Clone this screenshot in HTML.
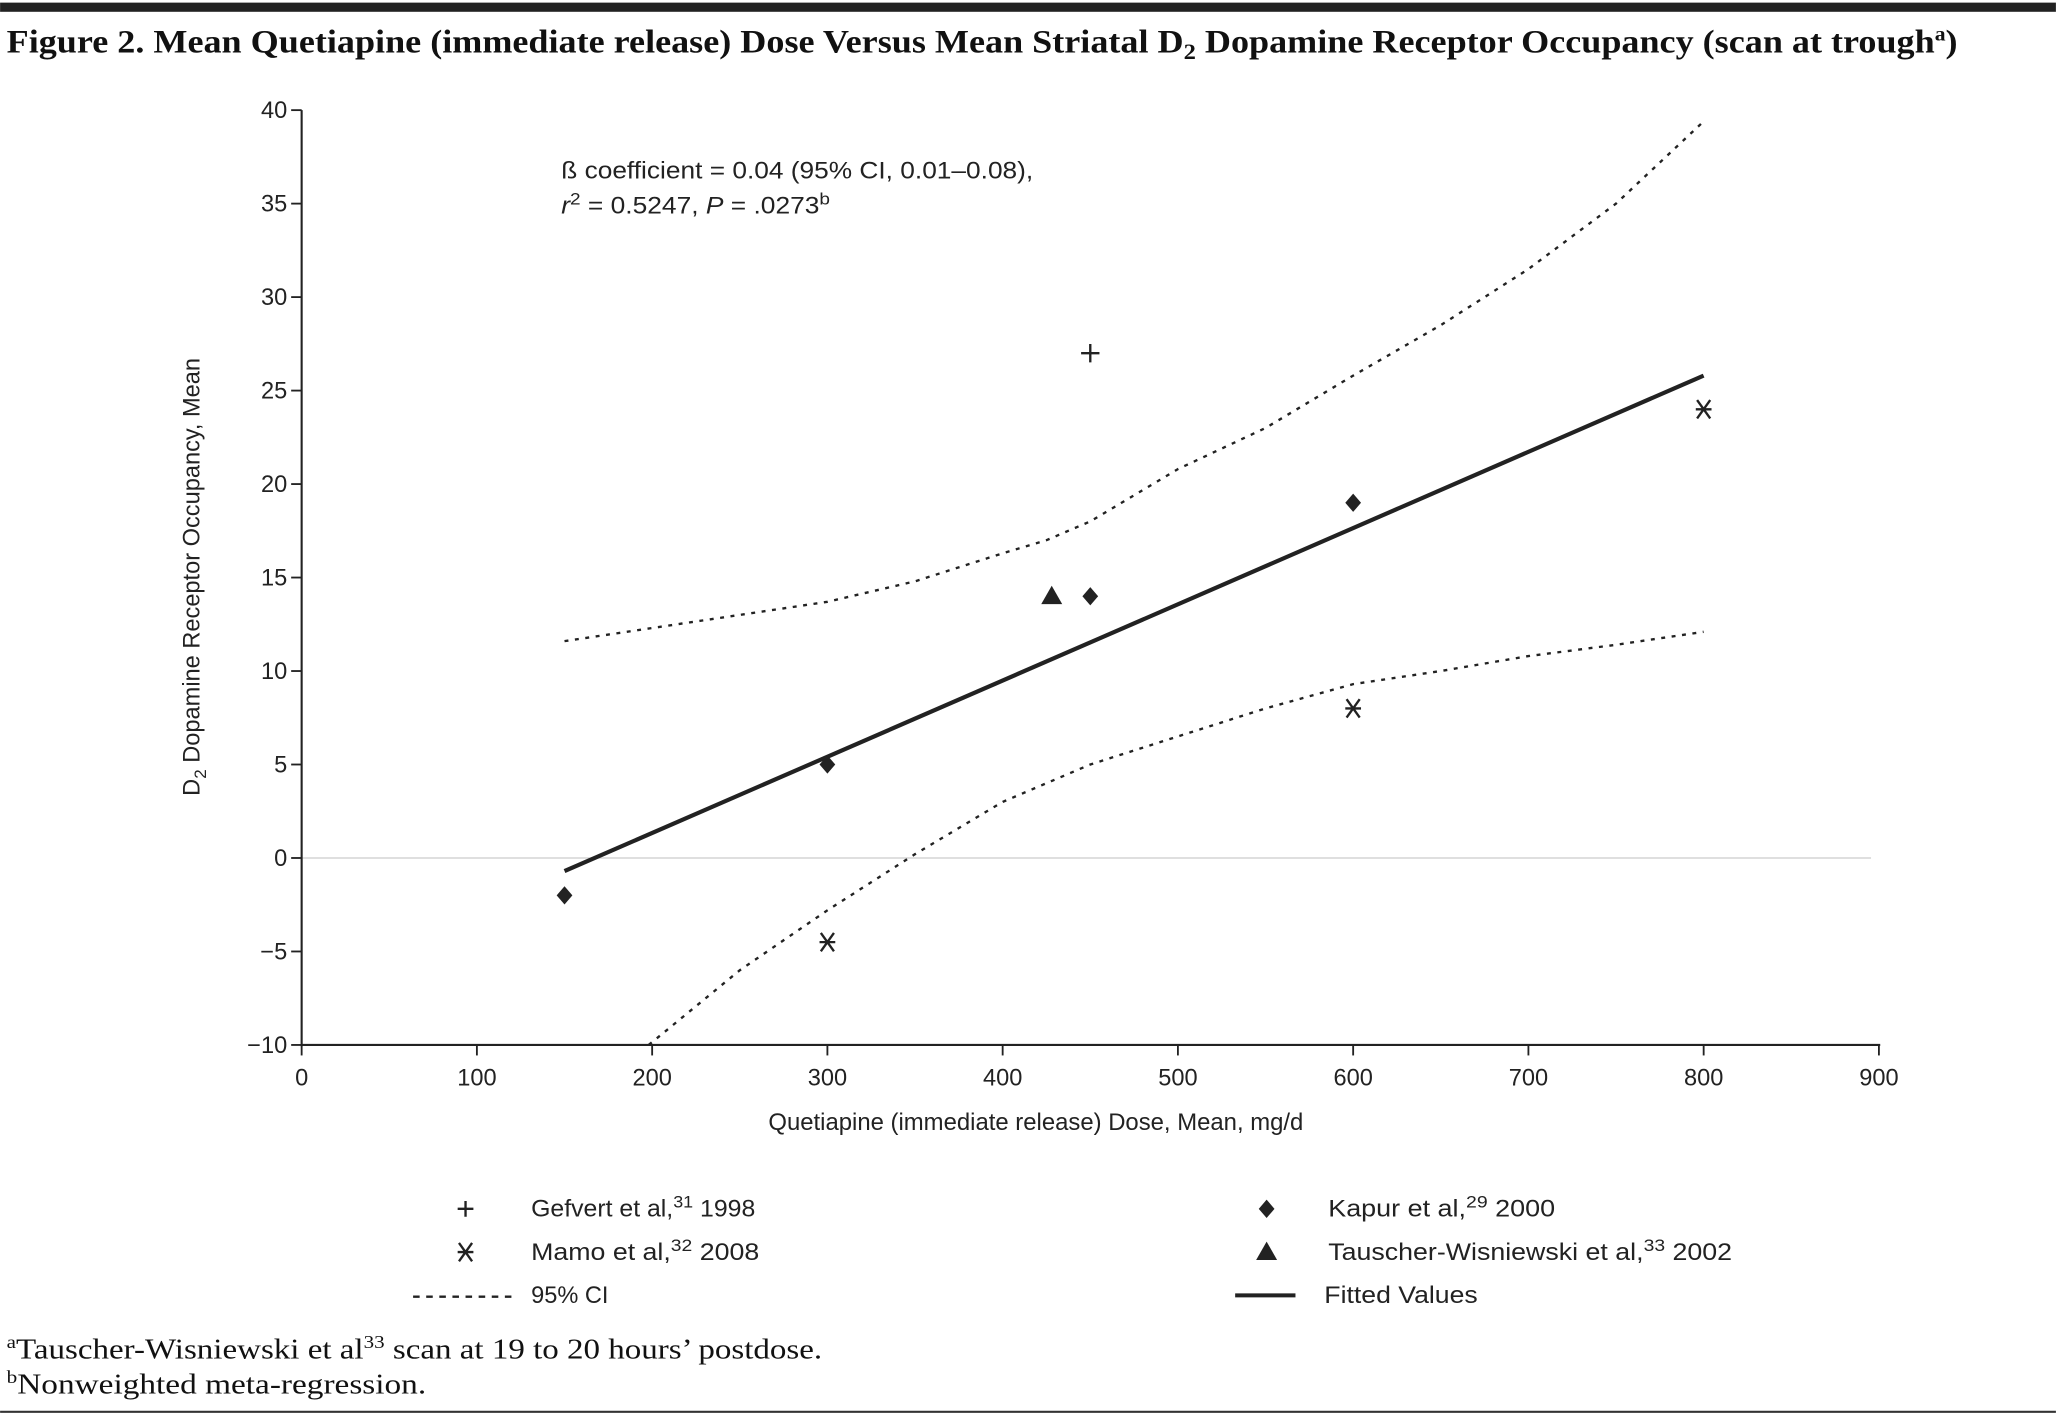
<!DOCTYPE html>
<html><head><meta charset="utf-8"><style>
html,body{margin:0;padding:0;background:#fff}
svg{display:block}
.s{font-family:"Liberation Sans",sans-serif;fill:#222}
.t{font-family:"Liberation Serif",serif;fill:#111}
</style></head><body>
<svg id="chart" width="2056" height="1416" viewBox="0 0 1568 1080" xmlns="http://www.w3.org/2000/svg">
<rect x="0" y="2" width="1568" height="7" fill="#222"/>
<text class="t" x="5" y="40" font-size="25" font-weight="bold" textLength="1488" lengthAdjust="spacingAndGlyphs">Figure 2. Mean Quetiapine (immediate release) Dose Versus Mean Striatal D<tspan font-size="17" dy="5">2</tspan><tspan dy="-5"> Dopamine Receptor Occupancy (scan at trough</tspan><tspan font-size="15" dy="-9">a</tspan><tspan dy="9">)</tspan></text>
<g id="axes"></g>
<g id="plot"></g>
<text class="s" x="428" y="136" font-size="18" textLength="360" lengthAdjust="spacingAndGlyphs">ß coefficient = 0.04 (95% CI, 0.01–0.08),</text>
<text class="s" x="428" y="163" font-size="18" textLength="205" lengthAdjust="spacingAndGlyphs"><tspan font-style="italic">r</tspan><tspan font-size="13" dy="-7">2</tspan><tspan dy="7"> = 0.5247, </tspan><tspan font-style="italic">P</tspan> = .0273<tspan font-size="13" dy="-7">b</tspan></text>
<text class="s" x="790" y="862" font-size="18" text-anchor="middle" textLength="408" lengthAdjust="spacingAndGlyphs">Quetiapine (immediate release) Dose, Mean, mg/d</text>
<text class="s" font-size="18" text-anchor="middle" transform="translate(152,440) rotate(-90)">D<tspan font-size="13" dy="5">2</tspan><tspan dy="-5"> Dopamine Receptor Occupancy, Mean</tspan></text>
<g id="legend">
 <g>
  <path d="M349 922h12M355 916v12" stroke="#222" stroke-width="1.8"/>
  <text class="s" x="405" y="928" font-size="18" textLength="171" lengthAdjust="spacingAndGlyphs">Gefvert et al,<tspan font-size="13" dy="-7">31</tspan><tspan dy="7"> 1998</tspan></text>
 </g>
 <g>
  <path d="M350 948l10 14M360 948l-10 14M349 955h12" stroke="#222" stroke-width="1.8"/>
  <text class="s" x="405" y="961" font-size="18" textLength="174" lengthAdjust="spacingAndGlyphs">Mamo et al,<tspan font-size="13" dy="-7">32</tspan><tspan dy="7"> 2008</tspan></text>
 </g>
 <g>
  <line x1="315" y1="989" x2="392" y2="989" stroke="#222" stroke-width="1.8" stroke-dasharray="5,5"/>
  <text class="s" x="405" y="994" font-size="18">95% CI</text>
 </g>
 <g>
  <path d="M966 915l6 7-6 7-6-7z" fill="#222"/>
  <text class="s" x="1013" y="928" font-size="18" textLength="173" lengthAdjust="spacingAndGlyphs">Kapur et al,<tspan font-size="13" dy="-7">29</tspan><tspan dy="7"> 2000</tspan></text>
 </g>
 <g>
  <path d="M966 947l8 14h-16z" fill="#222"/>
  <text class="s" x="1013" y="961" font-size="18" textLength="308" lengthAdjust="spacingAndGlyphs">Tauscher-Wisniewski et al,<tspan font-size="13" dy="-7">33</tspan><tspan dy="7"> 2002</tspan></text>
 </g>
 <g>
  <line x1="942" y1="988" x2="988" y2="988" stroke="#222" stroke-width="3"/>
  <text class="s" x="1010" y="994" font-size="18" textLength="117" lengthAdjust="spacingAndGlyphs">Fitted Values</text>
 </g>
</g>
<text class="t" x="5" y="1036" font-size="22" textLength="622" lengthAdjust="spacingAndGlyphs"><tspan font-size="14" dy="-8">a</tspan><tspan dy="8">Tauscher-Wisniewski et al</tspan><tspan font-size="14" dy="-8">33</tspan><tspan dy="8"> scan at 19 to 20 hours’ postdose.</tspan></text>
<text class="t" x="5" y="1063" font-size="22" textLength="320" lengthAdjust="spacingAndGlyphs"><tspan font-size="14" dy="-8">b</tspan><tspan dy="8">Nonweighted meta-regression.</tspan></text>
<rect x="0" y="1076" width="1568" height="1.6" fill="#333"/>
</svg>
<script>
const xTicks=[0,100,200,300,400,500,600,700,800,900];
const yTicks=[-10,-5,0,5,10,15,20,25,30,35,40];
const fitX=[150,800];
const fitY=[-0.7,25.8];
const ciUpperX=[150,200,250,300,350,400,425,450,500,550,600,650,700,750,800];
const ciUpperY=[11.6,12.3,13,13.7,14.8,16.3,17,18,20.8,23,25.8,28.5,31.5,35,39.4];
const ciLowerX=[198,250,300,350,400,450,500,550,600,650,700,750,800];
const ciLowerY=[-10,-6,-2.8,0.2,3,5,6.5,8,9.3,10,10.8,11.4,12.1];
const gefvertX=[450];const gefvertY=[27];
const kapurX=[150,300,450,600];const kapurY=[-2,5,14,19];
const mamoX=[300,600,800];const mamoY=[-4.5,8,24];
const tauscherX=[428];const tauscherY=[14];

const NS='http://www.w3.org/2000/svg';
const X0=230,X1=1433,Y0=797,Y1=84;
const sx=v=>X0+(v-0)/(900-0)*(X1-X0);
const sy=v=>Y0-(v-(-10))/(40-(-10))*(Y0-Y1);
function mk(tag,attrs,parent){const e=document.createElementNS(NS,tag);for(const k in attrs)e.setAttribute(k,attrs[k]);parent.appendChild(e);return e;}
const axes=document.getElementById('axes'),plot=document.getElementById('plot');
let e;
e=mk('line',{x1:X0,y1:sy(0),x2:1427,y2:sy(0),stroke:'#ccc','stroke-width':1},axes);


e=mk('line',{x1:X0,y1:Y1,x2:X0,y2:Y0+1,stroke:'#222','stroke-width':1.6},axes);


e=mk('line',{x1:X0,y1:Y0,x2:X1+1,y2:Y0,stroke:'#222','stroke-width':1.6},axes);


yTicks.forEach(v=>{
 const y=sy(v);
 e=mk('line',{x1:X0-8,y1:y,x2:X0,y2:y,stroke:'#222','stroke-width':1.4},axes);
 
 
 e=mk('text',{x:X0-11,y:y+6,'font-size':18,'text-anchor':'end',class:'s'},axes);
 e.textContent=v<0?'\u2212'+Math.abs(v):String(v);
 
 
});
xTicks.forEach(v=>{
 const x=sx(v);
 e=mk('line',{x1:x,y1:Y0,x2:x,y2:Y0+8,stroke:'#222','stroke-width':1.4},axes);
 
 
 e=mk('text',{x:x,y:Y0+31,'font-size':18,'text-anchor':'middle',class:'s'},axes);
 e.textContent=String(v);
 
 
});
function poly(xs,ys){return xs.map((x,i)=>sx(x).toFixed(1)+','+sy(ys[i]).toFixed(1)).join(' ');}
e=mk('polyline',{points:poly(ciUpperX,ciUpperY),fill:'none',stroke:'#222','stroke-width':1.8,'stroke-dasharray':'3,5'},plot);


e=mk('polyline',{points:poly(ciLowerX,ciLowerY),fill:'none',stroke:'#222','stroke-width':1.8,'stroke-dasharray':'3,5'},plot);


e=mk('polyline',{points:poly(fitX,fitY),fill:'none',stroke:'#222','stroke-width':3.2},plot);


gefvertX.forEach((v,i)=>{const x=sx(v),y=sy(gefvertY[i]);
 e=mk('path',{d:`M${x-7} ${y}h14M${x} ${y-7}v14`,stroke:'#222','stroke-width':1.8},plot);
 
 });
kapurX.forEach((v,i)=>{const x=sx(v),y=sy(kapurY[i]);
 e=mk('path',{d:`M${x} ${y-7}l6 7-6 7-6-7z`,fill:'#222'},plot);
 
 });
mamoX.forEach((v,i)=>{const x=sx(v),y=sy(mamoY[i]);
 e=mk('path',{d:`M${x-5} ${y-7}l10 14M${x+5} ${y-7}l-10 14M${x-6} ${y}h12`,stroke:'#222','stroke-width':1.8},plot);
 
 });
tauscherX.forEach((v,i)=>{const x=sx(v),y=sy(tauscherY[i]);
 e=mk('path',{d:`M${x} ${y-8}l8 14h-16z`,fill:'#222'},plot);
 
 });
</script>
</body></html>
